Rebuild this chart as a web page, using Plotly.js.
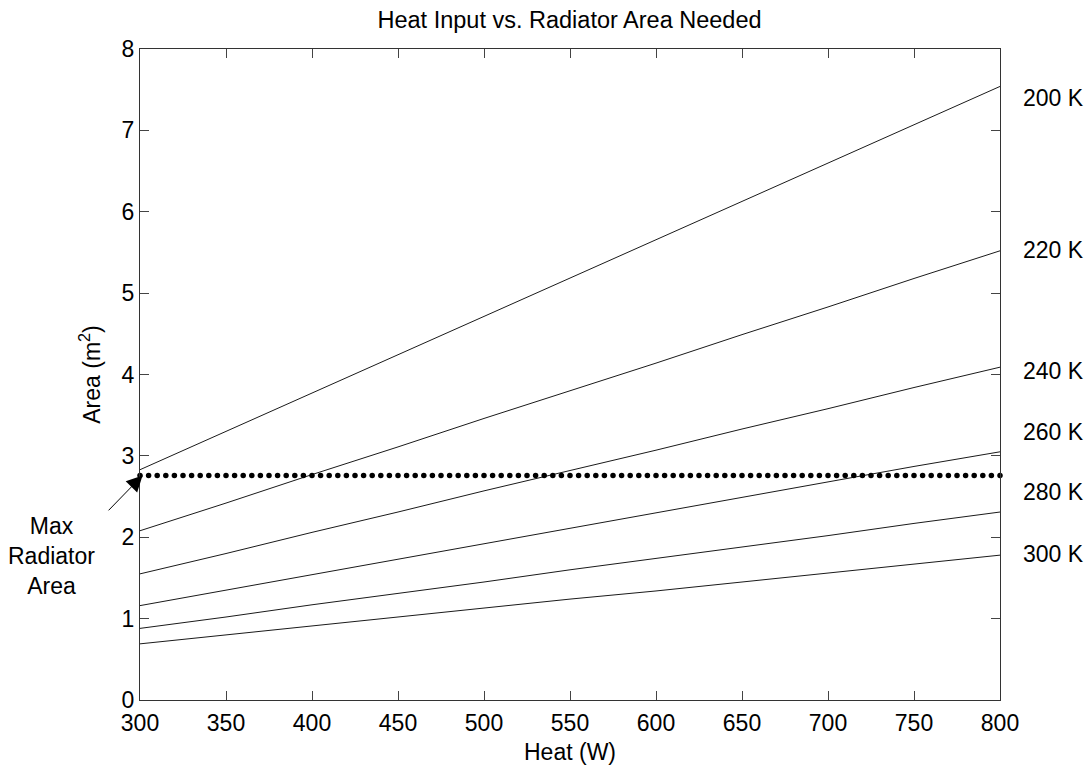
<!DOCTYPE html>
<html>
<head>
<meta charset="utf-8">
<script src="https://cdn.plot.ly/plotly-3.0.1.min.js"></script>
<style>html,body{margin:0;padding:0;background:#fff;}#chart{width:1090px;height:765px;}</style>
</head>
<body>
<div id="chart"></div>
<script>
// Heat input (W)
const heat = [300, 350, 400, 450, 500, 550, 600, 650, 700, 750, 800];
// Radiator area needed (m^2) per radiator temperature
const area200K = [2.83, 3.30, 3.77, 4.24, 4.71, 5.18, 5.65, 6.12, 6.60, 7.07, 7.54];
const area220K = [2.08, 2.42, 2.77, 3.11, 3.46, 3.80, 4.14, 4.49, 4.83, 5.18, 5.52];
const area240K = [1.55, 1.80, 2.06, 2.31, 2.57, 2.82, 3.07, 3.33, 3.58, 3.84, 4.09];
const area260K = [1.16, 1.35, 1.54, 1.73, 1.92, 2.11, 2.30, 2.49, 2.68, 2.87, 3.05];
const area280K = [0.88, 1.02, 1.17, 1.31, 1.45, 1.60, 1.74, 1.88, 2.02, 2.17, 2.31];
const area300K = [0.69, 0.80, 0.91, 1.02, 1.13, 1.24, 1.34, 1.45, 1.56, 1.67, 1.78];

// Max radiator area (m^2), drawn as a dotted line sampled every 5 W
const maxArea = 2.76;
const maxHeatStep = 5;

// Curve labels at the right of the plot
const curveLabels = ["200 K", "220 K", "240 K", "260 K", "280 K", "300 K"];
const curveLabelY = [7.40, 5.53, 4.04, 3.29, 2.55, 1.79];

const xTicks = [300, 350, 400, 450, 500, 550, 600, 650, 700, 750, 800];
const yTicks = [0, 1, 2, 3, 4, 5, 6, 7, 8];

const FONT = '"Liberation Sans", Arial, Helvetica, sans-serif';
const series = [area200K, area220K, area240K, area260K, area280K, area300K];

const traces = series.map((ys, i) => ({
  x: heat, y: ys, type: 'scatter', mode: 'lines',
  line: {color: '#1a1a1a', width: 1}, name: curveLabels[i], hoverinfo: 'x+y'
}));

const maxX = [], maxY = [];
for (let h = heat[0]; h <= heat[heat.length - 1]; h += maxHeatStep) { maxX.push(h); maxY.push(maxArea); }
traces.push({
  x: maxX, y: maxY, type: 'scatter', mode: 'markers',
  marker: {color: '#000', size: 5.5}, name: 'Max Radiator Area', cliponaxis: false
});

const annotations = curveLabels.map((t, i) => ({
  xref: 'paper', yref: 'y', x: 1.024, y: curveLabelY[i], xanchor: 'left', yanchor: 'middle',
  text: t, showarrow: false, font: {family: FONT, size: 23, color: '#000'}
}));
annotations.push({
  xref: 'x', yref: 'y', x: 301.5, y: maxArea, ax: -36, ay: 37,
  text: ' ', showarrow: true, arrowhead: 2, arrowsize: 3.2, arrowwidth: 1, arrowcolor: '#000', standoff: 0,
  font: {size: 2}
});
annotations.push({
  xref: 'paper', yref: 'paper', x: -0.103, y: (765 - 65 - 556) / 651,
  xanchor: 'center', yanchor: 'middle', align: 'center',
  text: 'Max<br>Radiator<br>Area', showarrow: false, font: {family: FONT, size: 23, color: '#000'}
});

const layout = {
  width: 1090, height: 765,
  margin: {l: 140, r: 90, t: 49, b: 65},
  paper_bgcolor: '#fff', plot_bgcolor: '#fff',
  showlegend: false,
  font: {family: FONT, size: 23, color: '#000'},
  title: {text: 'Heat Input vs. Radiator Area Needed', x: 0.5225, xanchor: 'center', y: 0.974, yanchor: 'middle',
          font: {family: FONT, size: 23.5, color: '#000'}},
  xaxis: {
    range: [300, 800], tickvals: xTicks, ticktext: xTicks.map(String),
    ticks: 'inside', ticklen: 9, tickcolor: '#444', tickwidth: 1,
    showline: true, linecolor: '#333', linewidth: 1, mirror: 'ticks',
    showgrid: false, zeroline: false, ticklabelstandoff: 2,
    tickfont: {family: FONT, size: 23, color: '#000'},
    title: {text: 'Heat (W)', standoff: 10, font: {family: FONT, size: 23, color: '#000'}}
  },
  yaxis: {
    range: [0, 8], tickvals: yTicks, ticktext: yTicks.map(String),
    ticks: 'inside', ticklen: 9, tickcolor: '#444', tickwidth: 1,
    showline: true, linecolor: '#333', linewidth: 1, mirror: 'ticks',
    showgrid: false, zeroline: false,
    tickfont: {family: FONT, size: 23, color: '#000'},
    title: {text: 'Area (m<sup>2</sup>)', standoff: 14, font: {family: FONT, size: 23, color: '#000'}}
  },
  annotations: annotations
};

Plotly.newPlot('chart', traces, layout, {displayModeBar: false, staticPlot: true});
</script>
</body>
</html>
